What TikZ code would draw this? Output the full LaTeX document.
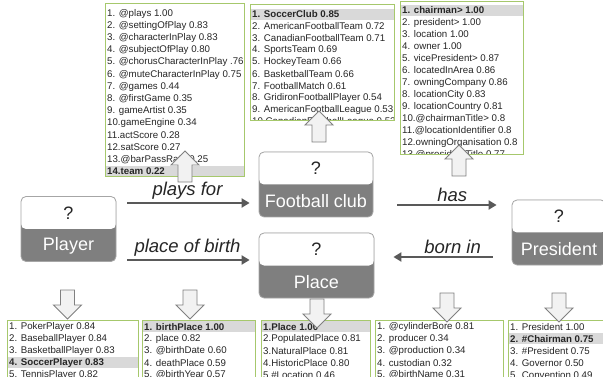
\documentclass[tikz,border=0pt]{standalone}
\usepackage{fontspec}
\setmainfont{Liberation Sans}
\usetikzlibrary{arrows.meta}
\definecolor{cgreen}{HTML}{A6C86C}
\definecolor{chl}{HTML}{D9D9D9}
\definecolor{cdark}{HTML}{262626}
\definecolor{cnode}{HTML}{7F7F7F}
\definecolor{cedge}{HTML}{A6A6A6}
\definecolor{carrow}{HTML}{595959}
\definecolor{cblock}{HTML}{F2F2F2}
\definecolor{cblockline}{HTML}{808080}

\begin{document}
\begin{tikzpicture}[x=1pt,y=-1pt,
  concept/.style={draw=cedge, fill=cnode, rounded corners=5pt, line width=0.8pt, minimum height=65pt, inner sep=0,
    path picture={\fill[white] (path picture bounding box.north west) rectangle (path picture bounding box.east);}},
  qm/.style={yshift=16pt, font=\fontsize{18}{18}\selectfont, text=cdark, inner sep=0},
  cname/.style={yshift=-16.5pt, font=\fontsize{18}{18}\selectfont, text=white, inner sep=0},
  rel/.style={-{Triangle[length=8pt,width=9pt]}, line width=2.8pt, draw=carrow},
  lbl/.style={font=\fontsize{18.5}{18.5}\selectfont\itshape, text=cdark, inner sep=2pt},
  lst/.style={draw=cgreen, line width=1pt},
  item/.style={anchor=west, inner sep=0, font=\fontsize{9.7}{11}\selectfont, text=cdark},
  blockarr/.style={fill=cblock, draw=cblockline, line width=0.9pt},
  uparr/.pic={\draw[blockarr] (-7,0) -- (7,0) -- (7,-17) -- (14,-17) -- (0,-31) -- (-14,-17) -- (-7,-17) -- cycle;},
  dnarr/.pic={\draw[blockarr] (-7,0) -- (7,0) -- (7,15) -- (14,15) -- (0,29) -- (-14,15) -- (-7,15) -- cycle;}]

\useasboundingbox (0,0) rectangle (603,377);
\clip (0,0) rectangle (603,377);
\fill[white] (0,0) rectangle (603,377);

\begin{scope}
\clip (105,4) rectangle (244,177);
\fill[chl] (105,166) rectangle (244,177);
\foreach \t [count=\i] in {1. @plays 1.00, 2. @settingOfPlay 0.83, 3. @characterInPlay 0.83, 4. @subjectOfPlay 0.80, 5. @chorusCharacterInPlay .76, 6. @muteCharacterInPlay 0.75, 7. @games 0.44, 8. @firstGame 0.35, 9. gameArtist 0.35, 10.gameEngine 0.34, 11.actScore 0.28, 12.satScore 0.27, 13.@barPassRate 0.25, {\bfseries 14.team 0.22}}
  \node[item] (plays\i) at (107,{14+12.1*(\i-1)}) {\t};
\end{scope}
\draw[lst] (105,4) rectangle (244,177);

\begin{scope}
\clip (250,5) rectangle (394,121);
\fill[chl] (250,9) rectangle (394,20);
\foreach \t [count=\i] in {{\bfseries 1. SoccerClub 0.85}, 2. AmericanFootballTeam 0.72, 3. CanadianFootballTeam 0.71, 4. SportsTeam 0.69, 5. HockeyTeam 0.66, 6. BasketballTeam 0.66, 7. FootballMatch 0.61, 8. GridironFootballPlayer 0.54, 9. AmericanFootballLeague 0.53, 10.CanadianFootballLeague 0.52}
  \node[item] (club\i) at (252,{14.5+11.9*(\i-1)}) {\t};
\end{scope}
\draw[lst] (250,5) rectangle (394,121);

\begin{scope}
\clip (400,2) rectangle (523,155);
\fill[chl] (400,5) rectangle (523,16);
\foreach \t [count=\i] in {{\bfseries 1. chairman> 1.00}, 2. president> 1.00, 3. location 1.00, 4. owner 1.00, 5. vicePresident> 0.87, 6. locatedInArea 0.86, 7. owningCompany 0.86, 8. locationCity 0.83, 9. locationCountry 0.81, 10.@chairmanTitle> 0.8, 11.@locationIdentifier 0.8, 12.owningOrganisation 0.8, 13.@presidentTitle 0.77}
  \node[item] (has\i) at (402,{10.5+12*(\i-1)}) {\t};
\end{scope}
\draw[lst] (400,2) rectangle (523,155);

\begin{scope}
\clip (7,320) rectangle (138,380);
\fill[chl] (7,357) rectangle (138,368);
\foreach \t [count=\i] in {1. PokerPlayer 0.84, 2. BaseballPlayer 0.84, 3. BasketballPlayer 0.83, {\bfseries 4. SoccerPlayer 0.83}, 5. TennisPlayer 0.82}
  \node[item] (ptype\i) at (9,{327+12*(\i-1)}) {\t};
\end{scope}
\draw[lst] (7,320) rectangle (138,380);

\begin{scope}
\clip (142,320) rectangle (255,380);
\fill[chl] (142,321) rectangle (255,332);
\foreach \t [count=\i] in {{\bfseries 1. birthPlace 1.00}, 2. place 0.82, 3. @birthDate 0.60, 4. deathPlace 0.59, 5. @birthYear 0.57}
  \node[item] (birth\i) at (144,{327+12*(\i-1)}) {\t};
\end{scope}
\draw[lst] (142,320) rectangle (255,380);

\begin{scope}
\clip (261,320) rectangle (370,380);
\fill[chl] (261,321) rectangle (370,332);
\foreach \t [count=\i] in {{\bfseries 1.Place 1.00}, 2.PopulatedPlace 0.81, 3.NaturalPlace 0.81, 4.HistoricPlace 0.80, 5.\#Location 0.46}
  \node[item] (place\i) at (263,{327+12*(\i-1)}) {\t};
\end{scope}
\draw[lst] (261,320) rectangle (370,380);

\begin{scope}
\clip (375,320) rectangle (503,380);
\foreach \t [count=\i] in {1. @cylinderBore 0.81, 2. producer 0.34, 3. @production 0.34, 4. custodian 0.32, 5. @birthName 0.31}
  \node[item] (born\i) at (377,{327+12*(\i-1)}) {\t};
\end{scope}
\draw[lst] (375,320) rectangle (503,380);

\begin{scope}
\clip (508,320) rectangle (610,380);
\fill[chl] (508,333) rectangle (610,344);
\foreach \t [count=\i] in {1. President 1.00, {\bfseries 2. \#Chairman 0.75}, 3. \#President 0.75, 4. Governor 0.50, 5. Convention 0.49}
  \node[item] (pres\i) at (510,{327+12*(\i-1)}) {\t};
\end{scope}
\draw[lst] (508,320) rectangle (610,380);

\node[concept, minimum width=95pt, label={[qm]center:?}, label={[cname]center:Player}] (player) at (68.5,229) {};
\node[concept, minimum width=114pt, label={[qm]center:?}, label={[cname]center:Football club}] (fc) at (316,184.5) {};
\node[concept, minimum width=115pt, label={[qm]center:?}, label={[cname]center:Place}] (place) at (316.5,265.5) {};
\node[concept, minimum width=94pt, label={[qm]center:?}, label={[cname]center:President}] (pres) at (559,232.5) {};

\draw[rel, shorten <=11pt, shorten >=9pt] ([yshift=26pt]player.east) -- ([yshift=26pt]player.east -| fc.west) node[midway, above, lbl] {plays for};
\draw[rel, shorten <=11pt, shorten >=9pt] ([yshift=-31pt]player.east) -- ([yshift=-31pt]player.east -| place.west) node[midway, above, lbl] {place of birth};
\draw[rel, shorten <=24pt, shorten >=15pt] ([yshift=-20.5pt]fc.east) -- ([yshift=-20.5pt]fc.east -| pres.west) node[pos=0.57, above, lbl] {has};
\draw[rel, shorten <=19pt, shorten >=19pt] ([yshift=-24.5pt]pres.west) -- ([yshift=-24.5pt]pres.west -| place.east) node[pos=0.43, above, lbl] {born in};

\pic at (185,182) {uparr};
\pic at (319,142) {uparr};
\pic at (459,176) {uparr};
\pic at (67.5,290) {dnarr};
\pic at (190,290) {dnarr};
\pic at (317,299) {dnarr};
\pic at (447,293) {dnarr};
\pic at (559,293) {dnarr};
\end{tikzpicture}
\end{document}
